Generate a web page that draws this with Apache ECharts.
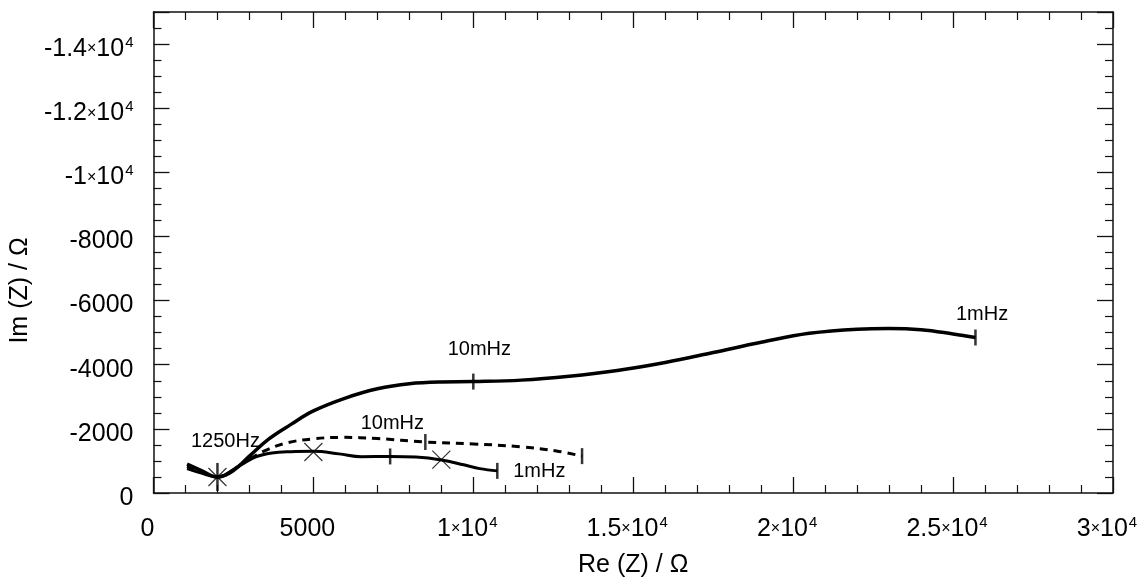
<!DOCTYPE html>
<html>
<head>
<meta charset="utf-8">
<script src="https://cdn.jsdelivr.net/npm/echarts@6/dist/echarts.min.js"></script>
<style>
html,body{margin:0;padding:0;background:#fff;}
#chart{width:1141px;height:583px;}
</style>
</head>
<body>
<div id="chart"></div>
<script>
// ---- data (Re(Z) in ohm, Im(Z) in ohm) ----
const upperRe = [1050,1500,2000,2500,3000,3600,4300,5000,6000,7000,8000,9000,10000,11500,13000,14500,16000,17500,19000,20500,22000,23000,24000,25000,25700];
const upperIm = [-900,-700,-500,-700,-1150,-1680,-2140,-2560,-2960,-3250,-3410,-3465,-3475,-3520,-3640,-3820,-4070,-4380,-4700,-4980,-5110,-5130,-5090,-4960,-4850];

const dashRe = [1050,1500,2000,2500,3000,3600,4200,5000,5900,7000,8500,10000,11500,12600,13400];
const dashIm = [-830,-650,-500,-730,-1060,-1370,-1570,-1690,-1735,-1700,-1590,-1530,-1440,-1310,-1150];

const lowRe = [1050,1500,2000,2700,3200,3700,4300,5000,5800,6500,7400,8200,9000,9700,10200,10750];
const lowIm = [-760,-620,-500,-860,-1130,-1250,-1290,-1300,-1220,-1130,-1140,-1120,-1030,-880,-760,-690];

// frequency markers
const crossRe = [2000,5000,9000];
const crossIm = [-500,-1280,-1040];
const tickRe = [10000,25700,8500,13400,7400,10750];
const tickIm = [-3475,-4850,-1590,-1150,-1140,-690];
const bigTickRe = [2000];
const bigTickIm = [-500];

// annotations
const noteText = ['1250Hz','10mHz','1mHz','10mHz','1mHz'];
const noteRe = [2250,7469,12063,10188,25906];
const noteIm = [-1611,-2169,-682,-4462,-5578];

// axis tick labels
const xTickValues = [0,5000,10000,15000,20000,25000,30000];
const xTickLabels = ['0','5000','1×10^4','1.5×10^4','2×10^4','2.5×10^4','3×10^4'];
const yTickValues = [0,-2000,-4000,-6000,-8000,-10000,-12000,-14000];
const yTickLabels = ['0','-2000','-4000','-6000','-8000','-1×10^4','-1.2×10^4','-1.4×10^4'];

// ---- helpers ----
const zip = (a, b) => a.map((v, i) => [v, b[i]]);
function richLabel(s) {
  if (s.indexOf('^') < 0) return '{m|' + s + '}';
  const mant = s.split('×')[0];
  const exp = s.split('^')[1];
  return '{m|' + mant + '}{x|×}{m|10}{s|' + exp + '}';
}
function labelFor(values, labels) {
  return function (v) {
    for (let i = 0; i < values.length; i++) {
      if (Math.abs(values[i] - v) < 1e-6) return richLabel(labels[i]);
    }
    return '';
  };
}
const FONT = '"Liberation Sans", Arial, sans-serif';
const richStyles = {
  m: {fontSize: 25, fontFamily: FONT, color: '#000', lineHeight: 28},
  x: {fontSize: 16, fontFamily: FONT, color: '#000', lineHeight: 28},
  s: {fontSize: 15, fontFamily: FONT, color: '#000', lineHeight: 14, verticalAlign: 'top', padding: [0, 0, 0, 1]}
};
const axisLine = {show: true, onZero: false, lineStyle: {color: '#111', width: 1.5}};
const majorTick = {show: true, inside: true, length: 16, lineStyle: {color: '#111', width: 1.3}};

const chart = echarts.init(document.getElementById('chart'), null, {renderer: 'canvas'});

const option = {
  backgroundColor: '#fff',
  animation: false,
  grid: {left: 153, right: 28, top: 12, bottom: 87, containLabel: false},
  xAxis: [
    {
      type: 'value', min: 0, max: 30000, interval: 5000, position: 'bottom',
      axisLine: axisLine,
      axisTick: majorTick,
      minorTick: {show: true, splitNumber: 5, length: 8, lineStyle: {color: '#111', width: 1.2}},
      splitLine: {show: false},
      axisLabel: {margin: 22, formatter: labelFor(xTickValues, xTickLabels), rich: richStyles, padding: [0, 12, 0, 0]},
      name: 'Re (Z) / Ω', nameLocation: 'middle', nameGap: 60,
      nameTextStyle: {fontSize: 25, fontFamily: FONT, color: '#000'}
    },
    {
      type: 'value', min: 0, max: 30000, interval: 5000, position: 'top',
      axisLine: axisLine,
      axisTick: majorTick,
      minorTick: {show: true, splitNumber: 5, length: 8, lineStyle: {color: '#111', width: 1.2}},
      splitLine: {show: false},
      axisLabel: {show: false}
    }
  ],
  yAxis: [
    {
      type: 'value', min: -15000, max: 0, inverse: true, minInterval: 2000, maxInterval: 2000, splitNumber: 7,
      position: 'left',
      axisLine: axisLine,
      axisTick: majorTick,
      minorTick: {show: true, splitNumber: 4, length: 8, lineStyle: {color: '#111', width: 1.2}},
      splitLine: {show: false},
      axisLabel: {margin: 20, formatter: labelFor(yTickValues, yTickLabels), rich: richStyles, padding: [10, 0, 0, 0]},
      name: 'Im (Z) / Ω', nameLocation: 'middle', nameGap: 108, nameRotate: 90,
      nameTextStyle: {fontSize: 25, fontFamily: FONT, color: '#000', padding: [0, 76, 0, 0]}
    },
    {
      type: 'value', min: -15000, max: 0, inverse: true, minInterval: 2000, maxInterval: 2000, splitNumber: 7,
      position: 'right',
      axisLine: axisLine,
      axisTick: majorTick,
      minorTick: {show: true, splitNumber: 4, length: 8, lineStyle: {color: '#111', width: 1.2}},
      splitLine: {show: false},
      axisLabel: {show: false}
    }
  ],
  series: [
    {
      name: 'upper', type: 'line', data: zip(upperRe, upperIm), showSymbol: false, symbol: 'none',
      smooth: 0.4,
      lineStyle: {color: '#000', width: 3.5}
    },
    {
      name: 'dashed', type: 'line', data: zip(dashRe, dashIm), showSymbol: false, symbol: 'none',
      smooth: 0.4,
      lineStyle: {color: '#000', width: 3, type: [8, 6]}
    },
    {
      name: 'lower', type: 'line', data: zip(lowRe, lowIm), showSymbol: false, symbol: 'none',
      smooth: 0.4,
      lineStyle: {color: '#000', width: 3}
    },
    {
      name: 'cross', type: 'scatter', data: zip(crossRe, crossIm),
      symbol: 'path://M0,0L10,10M10,0L0,10', symbolSize: 18,
      itemStyle: {color: 'none', borderColor: '#000', borderWidth: 1.2}, z: 5
    },
    {
      name: 'ticks', type: 'scatter', data: zip(tickRe, tickIm),
      symbol: 'rect', symbolSize: [2.5, 16],
      itemStyle: {color: '#000'}, z: 5
    },
    {
      name: 'bigTick', type: 'scatter', data: zip(bigTickRe, bigTickIm),
      symbol: 'rect', symbolSize: [2.5, 28],
      itemStyle: {color: '#000'}, z: 5
    },
    {
      name: 'notes', type: 'scatter',
      data: noteText.map((t, i) => ({name: t, value: [noteRe[i], noteIm[i]]})),
      symbolSize: 1, itemStyle: {color: 'rgba(0,0,0,0)'}, silent: true, z: 6,
      label: {
        show: true, position: 'inside', formatter: p => p.name,
        fontSize: 20, fontFamily: FONT, color: '#000', textBorderWidth: 0, opacity: 1
      }
    }
  ]
};
chart.setOption(option);
</script>
</body>
</html>
